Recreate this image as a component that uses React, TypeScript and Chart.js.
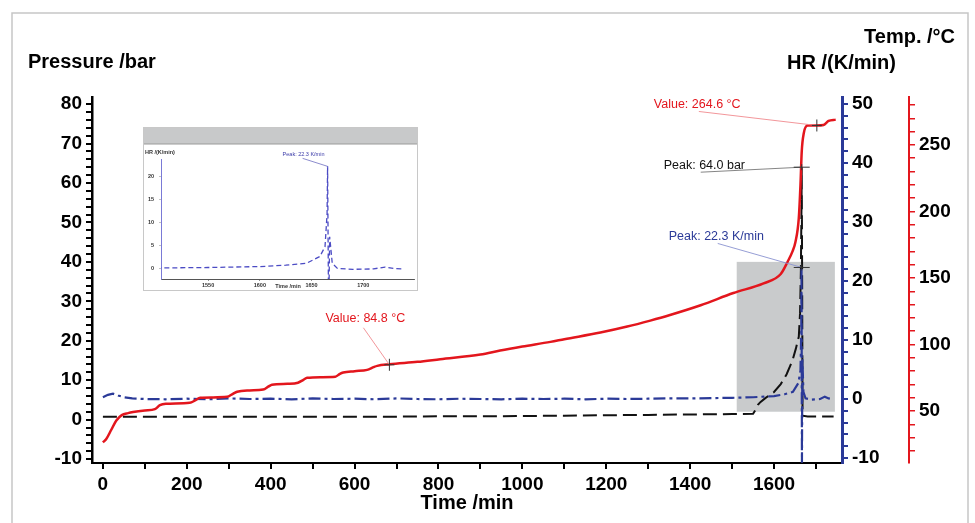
import React, { useEffect, useRef } from 'react';
import { Chart, registerables } from 'chart.js';
Chart.register(...registerables);

const FONT = "'Liberation Sans', Arial, sans-serif";

// ---- Data ----
const tempTime = [0, 8, 20, 32, 45, 60, 72, 100, 124, 136, 150, 207, 220, 232, 260, 296, 310, 320, 350, 382, 395, 403, 440, 465, 478, 487, 520, 554, 565, 573, 600, 630, 645, 654, 683, 750, 804, 900, 947, 1000, 1067, 1100, 1186, 1250, 1305, 1350, 1425, 1503, 1575, 1616, 1632, 1644, 1651, 1659, 1663, 1666, 1671, 1680, 1702, 1718, 1730, 1747];
const tempValue = [26.5, 29, 36, 43, 47, 48.5, 49.3, 50.5, 51.5, 54.5, 55.5, 56.2, 58, 60, 60.3, 60.7, 63, 64.5, 65.5, 66.2, 68.5, 69.8, 70.5, 71.3, 73.5, 75, 75.5, 75.8, 78, 79, 80, 81, 83, 84, 85.2, 87, 89, 92.5, 95.5, 98.5, 102, 104, 109, 113.5, 118, 122, 129.5, 138.7, 146, 153, 162, 170, 177, 195, 220, 245, 259, 264.5, 264.6, 265, 268, 269];

const pressureTime = [0, 100, 200, 300, 400, 500, 600, 700, 800, 900, 1000, 1100, 1200, 1300, 1400, 1500, 1550, 1556, 1562, 1568, 1580, 1600, 1616, 1630, 1644, 1652, 1659, 1662, 1664, 1665.5, 1666, 1667, 1668, 1680, 1700, 1742];
const pressureValue = [0.7, 0.7, 0.7, 0.7, 0.7, 0.7, 0.75, 0.75, 0.85, 0.85, 0.9, 1.0, 1.1, 1.2, 1.3, 1.4, 1.5, 2.5, 3.8, 4.5, 5.5, 7, 9, 11.5, 15, 18, 21, 27, 38, 55, 64, 35, 1.0, 0.8, 0.8, 0.8];

const hrTime = [0, 6, 12, 24, 36, 50, 70, 100, 150, 200, 250, 300, 350, 400, 450, 500, 550, 600, 650, 700, 750, 800, 850, 900, 950, 1000, 1050, 1100, 1150, 1200, 1250, 1300, 1350, 1400, 1450, 1500, 1550, 1600, 1625, 1645, 1658, 1663, 1665, 1665.5, 1666.5, 1667.5, 1670, 1675, 1690, 1710, 1721, 1730, 1738];
const hrValue = [0.3, 0.5, 0.7, 0.9, 0.6, 0.3, 0.1, 0.0, -0.05, 0.05, -0.05, 0.1, 0.0, 0.05, -0.05, 0.1, 0.0, 0.05, -0.05, 0.1, 0.0, -0.05, 0.05, 0.0, -0.05, 0.05, 0.0, 0.05, -0.05, 0.05, 0.0, 0.05, 0.1, 0.1, 0.15, 0.2, 0.3, 0.5, 0.8, 1.2, 2.7, 4.8, 12, 22.3, -10.8, 7, 1.2, 0.1, -0.1, 0.0, 0.4, 0.1, 0.0];

// shaded zoom region (time range, pressure range)
const shadedTime = [1511, 1745];
const shadedPressure = [2, 40];

// annotations
const annText = ['Value: 84.8 °C', 'Value: 264.6 °C', 'Peak: 64.0 bar', 'Peak: 22.3 K/min'];
const annTime = [683, 1702, 1666, 1666];
const annValue = [84.8, 264.6, 64.0, 22.3];
const annAxis = ['y2', 'y2', 'y', 'y1'];

// axis titles
const titlePressure = 'Pressure /bar';
const titleTemp = 'Temp. /°C';
const titleHR = 'HR /(K/min)';
const titleTime = 'Time /min';

// inset
const insetPeakText = 'Peak: 22.3 K/min';
const insetPeakTime = 1665.5;
const insetPeakValue = 22.3;

const NAVY = '#2b3a98';
const RED = '#e3161d';

function pts(xs: number[], ys: number[]) {
  return xs.map((x, i) => ({ x, y: ys[i] }));
}

function cross(ctx: CanvasRenderingContext2D, x: number, y: number, h: number, v: number) {
  ctx.beginPath();
  ctx.moveTo(x - h, y);
  ctx.lineTo(x + h, y);
  ctx.moveTo(x, y - v);
  ctx.lineTo(x, y + v);
  ctx.stroke();
}

const mainPlugin = {
  id: 'mainDecor',
  beforeDraw(chart: any) {
    const ctx = chart.ctx as CanvasRenderingContext2D;
    ctx.save();
    ctx.fillStyle = '#fff';
    ctx.fillRect(0, 0, chart.width, chart.height);
    ctx.strokeStyle = '#c6c6c6';
    ctx.lineWidth = 1.5;
    ctx.strokeRect(12, 13, 956, 540);
    ctx.restore();
  },
  beforeDatasetsDraw(chart: any) {
    const ctx = chart.ctx as CanvasRenderingContext2D;
    const x = chart.scales.x;
    const y = chart.scales.y;
    const l = x.getPixelForValue(shadedTime[0]);
    const r = x.getPixelForValue(shadedTime[1]);
    const t = y.getPixelForValue(shadedPressure[1]);
    const b = y.getPixelForValue(shadedPressure[0]);
    ctx.save();
    ctx.fillStyle = '#c9cbcc';
    ctx.fillRect(l, t, r - l, b - t);
    ctx.restore();
  },
  afterDraw(chart: any) {
    const ctx = chart.ctx as CanvasRenderingContext2D;
    const x = chart.scales.x;
    ctx.save();
    // titles
    ctx.fillStyle = '#000';
    ctx.font = `bold 20px ${FONT}`;
    ctx.textBaseline = 'middle';
    ctx.textAlign = 'left';
    ctx.fillText(titlePressure, 28, 62);
    ctx.textAlign = 'right';
    ctx.fillText(titleTemp, 955, 37);
    ctx.fillText(titleHR, 896, 63);
    ctx.textAlign = 'center';
    ctx.fillText(titleTime, (chart.chartArea.left + chart.chartArea.right) / 2, 503);

    // annotations
    const textOff = [[-64, -46], [-163, -21], [-138, -2], [-133, -31]];
    const lineOff = [[-26, -37], [-118, -14], [-101, 5], [-84, -24]];
    const txtColor = [RED, RED, '#111', NAVY];
    const lineColor = ['#f08a8e', '#f08a8e', '#777', '#8a93d0'];
    ctx.font = `12.5px ${FONT}`;
    ctx.textAlign = 'left';
    for (let i = 0; i < annText.length; i++) {
      const cx = x.getPixelForValue(annTime[i]);
      const cy = chart.scales[annAxis[i]].getPixelForValue(annValue[i]);
      ctx.strokeStyle = lineColor[i];
      ctx.lineWidth = 0.9;
      ctx.beginPath();
      ctx.moveTo(cx + lineOff[i][0], cy + lineOff[i][1]);
      ctx.lineTo(cx, cy);
      ctx.stroke();
      ctx.strokeStyle = '#333';
      ctx.lineWidth = 1;
      if (i < 2) cross(ctx, cx, cy, 5, 6);
      else cross(ctx, cx, cy, 8, 3);
      ctx.fillStyle = txtColor[i];
      ctx.fillText(annText[i], cx + textOff[i][0], cy + textOff[i][1]);
    }
    ctx.restore();
  },
};

const insetPlugin = {
  id: 'insetDecor',
  beforeDraw(chart: any) {
    const ctx = chart.ctx as CanvasRenderingContext2D;
    ctx.save();
    ctx.fillStyle = '#fff';
    ctx.fillRect(0, 0, chart.width, chart.height);
    ctx.fillStyle = '#c8c9ca';
    ctx.fillRect(0, 0, chart.width, 17);
    ctx.strokeStyle = '#9a9a9a';
    ctx.lineWidth = 1;
    ctx.strokeRect(0.5, 0.5, chart.width - 1, 16.5);
    ctx.strokeStyle = '#c8c8c8';
    ctx.strokeRect(0.5, 0.5, chart.width - 1, chart.height - 1);
    ctx.restore();
  },
  afterDraw(chart: any) {
    const ctx = chart.ctx as CanvasRenderingContext2D;
    ctx.save();
    ctx.font = `bold 5.5px ${FONT}`;
    ctx.fillStyle = '#333';
    ctx.textBaseline = 'middle';
    ctx.textAlign = 'left';
    ctx.fillText(titleHR, 2, 25);
    ctx.textAlign = 'center';
    ctx.fillText(titleTime, 145, 159);
    const px = chart.scales.x.getPixelForValue(insetPeakTime);
    const py = chart.scales.y.getPixelForValue(insetPeakValue);
    ctx.strokeStyle = '#5a5ab8';
    ctx.lineWidth = 0.7;
    ctx.beginPath();
    ctx.moveTo(px - 25, py - 8);
    ctx.lineTo(px, py);
    ctx.stroke();
    ctx.fillStyle = '#3a3aa8';
    ctx.font = `5.5px ${FONT}`;
    ctx.textAlign = 'left';
    ctx.fillText(insetPeakText, px - 45, py - 12);
    ctx.restore();
  },
};

function tickFont(size: number) {
  return { family: FONT, size, weight: 'bold' as const };
}

export default function App() {
  const mainRef = useRef<HTMLCanvasElement>(null);
  const insetRef = useRef<HTMLCanvasElement>(null);

  useEffect(() => {
    if (!mainRef.current || !insetRef.current) return;
    const main = new Chart(mainRef.current, {
      type: 'line',
      data: {
        datasets: [
          {
            label: 'Temp',
            data: pts(tempTime, tempValue),
            yAxisID: 'y2',
            borderColor: RED,
            borderWidth: 2.5,
            pointRadius: 0,
            cubicInterpolationMode: 'monotone',
          },
          {
            label: 'HR',
            data: pts(hrTime, hrValue),
            yAxisID: 'y1',
            borderColor: NAVY,
            borderWidth: 2.2,
            borderDash: [12, 4, 3, 4],
            pointRadius: 0,
            tension: 0,
          },
          {
            label: 'Pressure',
            data: pts(pressureTime, pressureValue),
            yAxisID: 'y',
            borderColor: '#111',
            borderWidth: 2,
            borderDash: [14, 6],
            pointRadius: 0,
            tension: 0,
          },
        ],
      },
      options: {
        responsive: false,
        animation: false,
        devicePixelRatio: 1,
        layout: { padding: { top: 97, left: 20, right: 6, bottom: 0 } },
        plugins: { legend: { display: false }, tooltip: { enabled: false } },
        scales: {
          x: {
            type: 'linear',
            position: 'bottom',
            min: -26,
            max: 1762,
            afterFit: (s: any) => { s.height = 60; },
            border: { color: '#000', width: 2 },
            grid: { drawOnChartArea: false, color: '#000', lineWidth: 2, tickLength: 6 },
            ticks: {
              stepSize: 100,
              autoSkip: false,
              includeBounds: false,
              maxRotation: 0,
              color: '#000',
              padding: 4,
              font: tickFont(19),
              callback: (v: any) => (Number(v) % 200 === 0 ? String(v) : ''),
            },
          },
          y: {
            position: 'left',
            min: -11,
            max: 81.8,
            afterFit: (s: any) => { s.width = 72; },
            border: { color: '#000', width: 2.5 },
            grid: { drawOnChartArea: false, color: '#000', lineWidth: 2, tickLength: 6 },
            ticks: {
              stepSize: 2,
              autoSkip: false,
              includeBounds: false,
              color: '#000',
              padding: 4,
              font: tickFont(19),
              callback: (v: any) => (Number(v) % 10 === 0 ? String(v) : ''),
            },
          },
          y1: {
            position: 'right',
            weight: 0,
            min: -10.85,
            max: 51.2,
            afterFit: (s: any) => { s.width = 67; },
            border: { color: NAVY, width: 3 },
            grid: { drawOnChartArea: false, color: NAVY, lineWidth: 2, tickLength: 6 },
            ticks: {
              stepSize: 2,
              autoSkip: false,
              includeBounds: false,
              color: '#000',
              padding: 4,
              font: tickFont(19),
              callback: (v: any) => (Number(v) % 10 === 0 ? String(v) : ''),
            },
          },
          y2: {
            position: 'right',
            weight: 1,
            min: 11,
            max: 286,
            afterFit: (s: any) => { s.width = 60; },
            border: { color: RED, width: 2 },
            grid: { drawOnChartArea: false, color: RED, lineWidth: 1.5, tickLength: 6 },
            ticks: {
              stepSize: 10,
              autoSkip: false,
              includeBounds: false,
              color: '#000',
              padding: 4,
              font: tickFont(19),
              callback: (v: any) => (Number(v) % 50 === 0 ? String(v) : ''),
            },
          },
        },
      },
      plugins: [mainPlugin],
    } as any);

    const inset = new Chart(insetRef.current, {
      type: 'line',
      data: {
        datasets: [
          {
            label: 'HR',
            data: pts(hrTime, hrValue),
            borderColor: '#4b4bc4',
            borderWidth: 1.3,
            borderDash: [5, 3],
            pointRadius: 0,
            tension: 0,
          },
        ],
      },
      options: {
        responsive: false,
        animation: false,
        devicePixelRatio: 1,
        layout: { padding: { top: 32, left: 0, right: 4, bottom: 0 } },
        plugins: { legend: { display: false }, tooltip: { enabled: false } },
        scales: {
          x: {
            type: 'linear',
            min: 1504.5,
            max: 1749,
            afterFit: (s: any) => { s.height = 12; },
            border: { color: '#555', width: 1 },
            grid: { drawOnChartArea: false, color: '#777', lineWidth: 0.8, tickLength: 2 },
            ticks: {
              stepSize: 50,
              includeBounds: false,
              autoSkip: false,
              maxRotation: 0,
              color: '#333',
              padding: 1,
              font: tickFont(5.5),
              callback: (v: any) => String(v),
            },
          },
          y: {
            min: -2.2,
            max: 23.9,
            afterFit: (s: any) => { s.width = 18; },
            border: { color: '#7a7ad6', width: 1 },
            grid: { drawOnChartArea: false, color: '#999', lineWidth: 0.6, tickLength: 2 },
            ticks: {
              stepSize: 5,
              includeBounds: false,
              autoSkip: false,
              color: '#333',
              padding: 5,
              font: tickFont(5.5),
              callback: (v: any) => String(v),
            },
          },
        },
      },
      plugins: [insetPlugin],
    } as any);

    return () => {
      main.destroy();
      inset.destroy();
    };
  }, []);

  return (
    <div style={{ position: 'fixed', left: 0, top: 0, width: 975, height: 523, background: '#fff' }}>
      <canvas ref={mainRef} width={975} height={523} style={{ position: 'absolute', left: 0, top: 0, width: 975, height: 523 }} />
      <canvas ref={insetRef} width={275} height={164} style={{ position: 'absolute', left: 143, top: 127, width: 275, height: 164 }} />
    </div>
  );
}
